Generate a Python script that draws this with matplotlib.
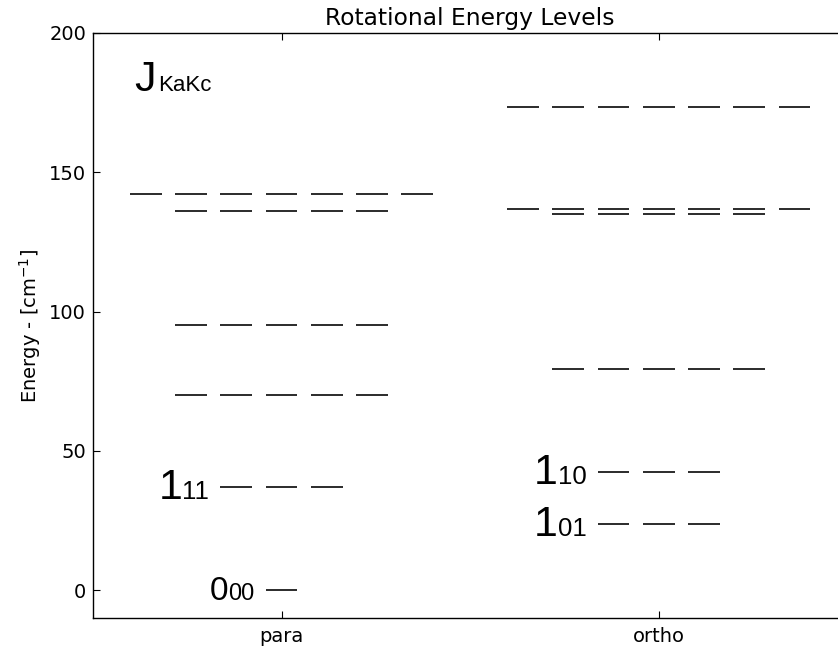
import numpy as np
import matplotlib
matplotlib.use('Agg')
import matplotlib.pyplot as plt
from matplotlib.textpath import TextToPath
from matplotlib.font_manager import FontProperties

# niveles rotacionales, nombre = J Ka Kc, energia en cm-1
species = ['para', 'ortho']
para_states = ['000', '111', '202', '211', '220', '313']
para_energy = [0.0, 37.1, 70.1, 95.2, 136.2, 142.3]
ortho_states = ['101', '110', '212', '221', '303', '312']
ortho_energy = [23.8, 42.4, 79.5, 134.9, 136.8, 173.4]
labelled = ['000', '111', '101', '110']

SPACING = 0.12   # separacion entre rayas de un mismo nivel
HALF = 0.042     # media longitud de cada raya
LABEL_FONT = 'Liberation Sans'

t2p = TextToPath()


def text_width(s, size):
    fp = FontProperties(family=LABEL_FONT, size=size)
    w, h, d = t2p.get_text_width_height_descent(s, fp, ismath=False)
    return w


def level_label(ax, x, y, main, sub, big, small, gap=8):
    dy = -0.29 * big
    ax.annotate(sub, (x, y), xytext=(-gap, dy), textcoords='offset points',
                ha='right', va='baseline', fontsize=small, family=LABEL_FONT)
    ax.annotate(main, (x, y), xytext=(-gap - text_width(sub, small), dy),
                textcoords='offset points', ha='right', va='baseline',
                fontsize=big, family=LABEL_FONT)


fig = plt.figure(figsize=(8.38, 6.49), dpi=100)
ax = fig.add_axes([0.111, 0.0478, 0.900, 0.9014])

for i, (states, energy) in enumerate([(para_states, para_energy),
                                      (ortho_states, ortho_energy)]):
    for state, e in zip(states, energy):
        J = int(state[0])
        # 2J+1 rayas por nivel (degeneracion)
        centers = i + np.arange(-J, J + 1) * SPACING
        ax.hlines([e] * len(centers), centers - HALF, centers + HALF,
                  colors='0.1', linewidth=1.3)
        if state in labelled:
            big, small = (24, 17) if J == 0 else (31, 18.5)
            level_label(ax, centers[0] - HALF, e, state[0], state[1:], big, small)

# leyenda J_KaKc
ax.annotate('J', (-0.39, 179), ha='left', va='baseline', fontsize=31,
            family=LABEL_FONT)
ax.annotate('KaKc', (-0.39, 179), xytext=(text_width('J', 31) + 1.5, 0),
            textcoords='offset points', ha='left', va='baseline',
            fontsize=16, family=LABEL_FONT)

ax.set_xlim(-0.5, 1.5)
ax.set_ylim(-10, 200)
ax.set_xticks([0, 1])
ax.set_xticklabels(species)
ax.set_yticks(np.arange(0, 201, 50))
ax.tick_params(direction='in', top=True, right=True, length=5, labelsize=14)
ax.tick_params(axis='x', pad=6.5)
ax.tick_params(axis='y', pad=5)
for sp in ax.spines.values():
    sp.set_linewidth(1.0)

ax.set_title('Rotational Energy Levels', fontsize=16.8)
ax.set_ylabel('Energy - [cm$^{-1}$]', fontsize=14)

plt.savefig('out.png', dpi=100)
